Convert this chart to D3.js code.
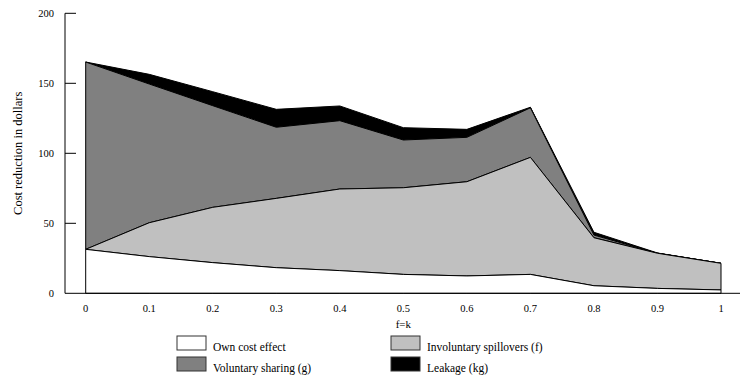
<!DOCTYPE html>
<html>
<head>
  <script src="https://d3js.org/d3.v7.min.js" charset="utf-8"></script>
  <style>
    body { margin: 0; background: #fff; }
    text { font-family: "Liberation Serif", "Times New Roman", serif; fill: #000; }
  </style>
</head>
<body>
  <div id="chart"></div>
  <script>
    // f = k values along the x axis
    var fk = [0, 0.1, 0.2, 0.3, 0.4, 0.5, 0.6, 0.7, 0.8, 0.9, 1];

    // stacked components
    var ownCost     = [31.4, 26.2, 21.9, 18.3, 16.2, 13.5, 12.4, 13.5, 5.4, 3.5, 2.4];
    var spillovers  = [0, 24.2, 39.5, 49.5, 58.3, 61.9, 67.3, 83.6, 34.3, 25.1, 19.0];
    var sharing     = [133.8, 99.1, 72.6, 50.8, 48.8, 34.1, 31.7, 35.4, 1.9, 0, 0];
    var leakage     = [0, 6.9, 10.0, 12.8, 10.5, 8.8, 5.7, 0.4, 2.0, 0.2, 0];

    var yTicks = [0, 50, 100, 150, 200];
    var xTickLabels = ['0', '0.1', '0.2', '0.3', '0.4', '0.5', '0.6', '0.7', '0.8', '0.9', '1'];

    var seriesNames = ['Own cost effect', 'Involuntary spillovers (f)', 'Voluntary sharing (g)', 'Leakage (kg)'];
    var keys = ['own', 'f', 'g', 'kg'];
    var fills = { own: '#ffffff', f: '#c0c0c0', g: '#808080', kg: '#000000' };

    var width = 740, height = 378;

    var rows = fk.map(function(v, i) {
      return { x: v, own: ownCost[i], f: spillovers[i], g: sharing[i], kg: leakage[i] };
    });

    var x = d3.scaleLinear().domain([0, 1]).range([85.7, 721]);
    var y = d3.scaleLinear().domain([0, 200]).range([293.3, 13.3]);

    var svg = d3.select('#chart').append('svg')
      .attr('width', width)
      .attr('height', height);

    var stack = d3.stack().keys(keys);
    var layers = stack(rows);

    var area = d3.area()
      .x(function(d) { return x(d.data.x); })
      .y0(function(d) { return y(d[0]); })
      .y1(function(d) { return y(d[1]); });

    // draw from top layer down so outlines of lower ones stay visible
    svg.selectAll('path.layer')
      .data(layers.slice().reverse())
      .enter().append('path')
      .attr('class', 'layer')
      .attr('d', function(d) {
        // close each band so its vertical ends get outlined too
        return area(d);
      })
      .style('fill', function(d) { return fills[d.key]; })
      .style('stroke', '#000')
      .style('stroke-width', 1)
      .style('stroke-linejoin', 'miter');

    // axes (hand-built to match the plain look)
    svg.append('line')
      .attr('x1', 65).attr('x2', 65)
      .attr('y1', y(200)).attr('y2', y(0))
      .style('stroke', '#000');
    svg.append('line')
      .attr('x1', 65).attr('x2', 740)
      .attr('y1', y(0)).attr('y2', y(0))
      .style('stroke', '#000');

    svg.selectAll('line.ytick')
      .data(yTicks.filter(function(t) { return t > 0; }))
      .enter().append('line')
      .attr('class', 'ytick')
      .attr('x1', 65).attr('x2', 76)
      .attr('y1', function(d) { return y(d); })
      .attr('y2', function(d) { return y(d); })
      .style('stroke', '#000');

    svg.selectAll('text.ylab')
      .data(yTicks)
      .enter().append('text')
      .attr('class', 'ylab')
      .attr('x', 54)
      .attr('y', function(d) { return y(d) + 3.5; })
      .attr('text-anchor', 'end')
      .style('font-size', '10.5px')
      .text(function(d) { return d; });

    svg.selectAll('text.xlab')
      .data(fk)
      .enter().append('text')
      .attr('class', 'xlab')
      .attr('x', function(d) { return x(d); })
      .attr('y', 312)
      .attr('text-anchor', 'middle')
      .style('font-size', '10.5px')
      .text(function(d, i) { return xTickLabels[i]; });

    svg.append('text')
      .attr('x', (x(0) + x(1)) / 2)
      .attr('y', 328)
      .attr('text-anchor', 'middle')
      .style('font-size', '11px')
      .text('f=k');

    svg.append('text')
      .attr('transform', 'translate(22,' + ((y(0) + y(200)) / 2) + ') rotate(-90)')
      .attr('text-anchor', 'middle')
      .style('font-size', '12.5px')
      .text('Cost reduction in dollars');

    // legend, two columns
    var legendPos = [
      { x: 177, y: 336 }, { x: 391, y: 336 },
      { x: 177, y: 357 }, { x: 391, y: 357 }
    ];
    var legend = svg.selectAll('g.legend')
      .data(keys)
      .enter().append('g')
      .attr('class', 'legend')
      .attr('transform', function(d, i) { return 'translate(' + legendPos[i].x + ',' + legendPos[i].y + ')'; });

    legend.append('rect')
      .attr('width', 29).attr('height', 14)
      .style('fill', function(d) { return fills[d]; })
      .style('stroke', '#333')
      .style('stroke-width', 1);

    legend.append('text')
      .attr('x', 36)
      .attr('y', 15)
      .style('font-size', '11.5px')
      .text(function(d, i) { return seriesNames[i]; });
  </script>
</body>
</html>
